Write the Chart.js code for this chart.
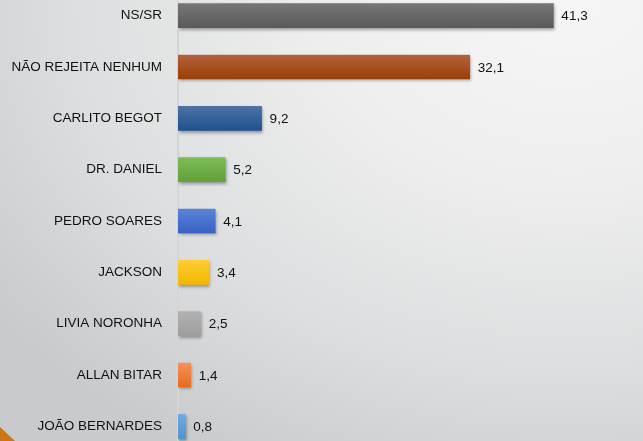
<!DOCTYPE html>
<html>
<head>
<meta charset="utf-8">
<script src="https://cdn.jsdelivr.net/npm/chart.js@4/dist/chart.umd.min.js"></script>
<style>
    html, body { margin: 0; padding: 0; }
    body {
        width: 643px; height: 441px; overflow: hidden; position: relative;
        background: radial-gradient(ellipse 110% 120% at 88% 0%, #f6f6f6 0%, #eeeeee 35%, #dcdedf 70%, #c8cacb 100%);
    }
    #rejeicaoChart { position: absolute; left: 0; top: -10px; }
    #corner {
        position: absolute; left: 0; top: 427px; width: 15px; height: 14px;
        background: #cc7418; clip-path: polygon(0 0, 100% 100%, 0 100%);
    }
</style>
</head>
<body>
<div id="corner"></div>
<canvas id="rejeicaoChart" width="643" height="462"></canvas>
<script>
const categories = ['NS/SR', 'NÃO REJEITA NENHUM', 'CARLITO BEGOT', 'DR. DANIEL', 'PEDRO SOARES', 'JACKSON', 'LIVIA NORONHA', 'ALLAN BITAR', 'JOÃO BERNARDES'];
const values = [41.3, 32.1, 9.2, 5.2, 4.1, 3.4, 2.5, 1.4, 0.8];
const topColors = ['#767676', '#b2633b', '#4d73a5', '#7dbb56', '#5a83d9', '#ffcd35', '#b2b2b2', '#f4925c', '#72aae1'];
const bottomColors = ['#5a5a5a', '#9c3e06', '#1e518f', '#60a139', '#3862c2', '#f4b700', '#9d9d9d', '#ea6a20', '#5190d0'];

function barFill(context) {
    const chart = context.chart;
    const i = context.dataIndex;
    if (!chart.chartArea || i === undefined) return bottomColors[i || 0];
    const c = chart.scales.y.getPixelForValue(i);
    const g = chart.ctx.createLinearGradient(0, c - 12, 0, c + 12);
    g.addColorStop(0, topColors[i]);
    g.addColorStop(1, bottomColors[i]);
    return g;
}

const shadowAndLabels = {
    id: 'shadowAndLabels',
    beforeDatasetsDraw(chart) {
        const ctx = chart.ctx;
        ctx.save();
        ctx.shadowColor = 'rgba(0, 0, 0, 0.35)';
        ctx.shadowBlur = 3;
        ctx.shadowOffsetX = 1;
        ctx.shadowOffsetY = 2;
    },
    afterDatasetsDraw(chart) {
        const ctx = chart.ctx;
        ctx.restore();
        const meta = chart.getDatasetMeta(0);
        ctx.save();
        ctx.font = '13.5px "Liberation Sans", Arial, sans-serif';
        ctx.fillStyle = '#111111';
        ctx.textAlign = 'left';
        ctx.textBaseline = 'middle';
        meta.data.forEach((bar, i) => {
            ctx.fillText(values[i].toFixed(1).replace('.', ','), bar.x + 8, bar.y + 1);
        });
        ctx.restore();
    }
};

new Chart(document.getElementById('rejeicaoChart'), {
    type: 'bar',
    data: {
        labels: categories,
        datasets: [{
            data: values,
            backgroundColor: barFill,
            borderWidth: 0,
            barThickness: 24
        }]
    },
    options: {
        indexAxis: 'y',
        responsive: false,
        animation: false,
        layout: { padding: { left: 0, right: 56, top: 0, bottom: 0 } },
        plugins: {
            legend: { display: false },
            tooltip: { enabled: false }
        },
        scales: {
            x: {
                display: false,
                min: 0,
                max: 45
            },
            y: {
                afterFit(scale) {
                    scale.width = 178;
                    scale.paddingTop = 0;
                    scale.paddingBottom = 0;
                },
                ticks: {
                    color: '#111111',
                    padding: 16,
                    font: { family: '"Liberation Sans", Arial, sans-serif', size: 13.5 }
                },
                grid: { display: false, drawTicks: false },
                border: { display: true, color: '#d4d5d6', width: 2 }
            }
        }
    },
    plugins: [shadowAndLabels]
});
</script>
</body>
</html>
